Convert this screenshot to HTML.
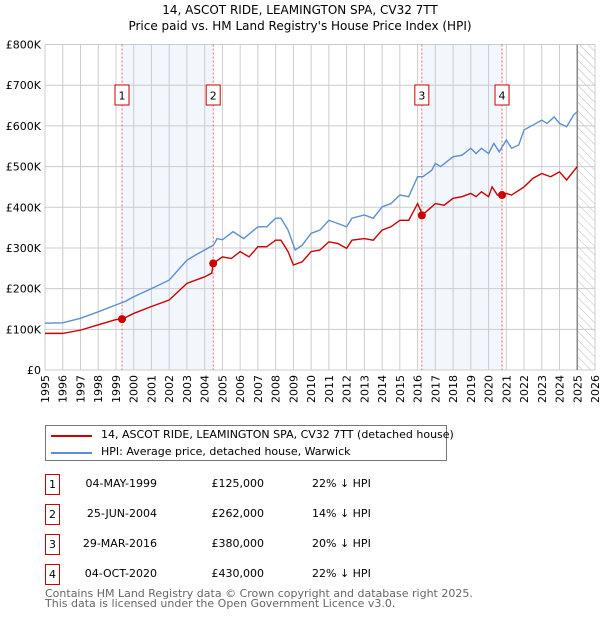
<!DOCTYPE html>
<html><head><meta charset="utf-8"><style>
body{margin:0;background:#fff;font-family:"DejaVu Sans","Liberation Sans",sans-serif;}
#wrap{position:relative;width:600px;height:620px;}
.row{position:absolute;font-size:11px;color:#000;white-space:nowrap}
.box{position:absolute;width:13px;height:19px;border:1px solid #c00;font-size:11px;text-align:center;line-height:19px;background:#fff}
svg text{font-family:"DejaVu Sans","Liberation Sans",sans-serif;}
</style></head><body><div id="wrap">
<svg id="chart" width="600" height="420" style="position:absolute;left:0;top:0">
<defs><pattern id="hatch" width="6" height="6" patternUnits="userSpaceOnUse" patternTransform="rotate(-45)"><line x1="0" y1="0" x2="0" y2="6" stroke="#bbb" stroke-width="1"/></pattern></defs>
<text x="300" y="14" text-anchor="middle" font-size="12">14, ASCOT RIDE, LEAMINGTON SPA, CV32 7TT</text>
<text x="300" y="30" text-anchor="middle" font-size="12">Price paid vs. HM Land Registry's House Price Index (HPI)</text>
<g id="g"></g>
</svg>
<div style="position:absolute;left:45px;top:425px;width:402px;height:36px;border:1px solid #777;box-sizing:border-box">
<div style="position:absolute;left:5px;top:9px;width:41px;height:2px;background:#c00"></div>
<div class="row" style="left:55px;top:2px">14, ASCOT RIDE, LEAMINGTON SPA, CV32 7TT (detached house)</div>
<div style="position:absolute;left:5px;top:26px;width:41px;height:2px;background:#5b8fd4"></div>
<div class="row" style="left:55px;top:19px">HPI: Average price, detached house, Warwick</div>
</div>
<div id="table"></div>
<div class="row" style="left:45px;top:589px;color:#666;line-height:10px">Contains HM Land Registry data © Crown copyright and database right 2025.<br>This data is licensed under the Open Government Licence v3.0.</div>
</div>
<script>
const years=[];for(let y=1995;y<=2026;y++)years.push(y);
const yTicks=[0,100,200,300,400,500,600,700,800];
const hpiT=[1995,1996,1997,1998,1999,1999.5,2000,2001,2002,2003,2003.5,2004,2004.5,2004.7,2005,2005.6,2006.2,2007,2007.5,2008,2008.3,2008.7,2009.1,2009.5,2010,2010.5,2011,2011.5,2012,2012.3,2013,2013.5,2014,2014.5,2015,2015.5,2016,2016.3,2016.8,2017,2017.3,2018,2018.5,2019,2019.3,2019.6,2020,2020.3,2020.6,2021,2021.3,2021.7,2022,2022.5,2023,2023.3,2023.7,2024,2024.4,2024.8,2025];
const hpiV=[115,116,127,143,160,168,180,200,221,270,283,295,307,323,320,340,323,352,352,373,373,344,295,307,336,344,368,360,352,373,381,373,401,409,430,426,475,475,491,508,500,524,528,545,532,545,532,557,536,565,545,553,590,602,614,606,622,606,598,627,635];
const ppT=[1995,1996,1997,1998,1999,1999.34,2000,2001,2002,2003,2004,2004.4,2004.48,2005,2005.5,2006,2006.5,2007,2007.5,2008,2008.3,2008.7,2009,2009.5,2010,2010.5,2011,2011.5,2012,2012.3,2013,2013.5,2014,2014.5,2015,2015.5,2016,2016.2,2016.24,2016.8,2017,2017.5,2018,2018.5,2019,2019.3,2019.6,2020,2020.2,2020.5,2020.76,2021,2021.3,2022,2022.5,2023,2023.5,2024,2024.4,2025];
const ppV=[90,90,98,111,124,125,139,156,172,213,229,238,262,278,274,291,278,303,303,319,319,291,258,266,291,295,315,311,299,319,323,319,344,352,368,368,409,389,380,401,409,405,422,426,434,426,438,426,450,430,430,434,430,450,471,483,475,487,467,500];
const saleT=[1999.34,2004.48,2016.24,2020.76];
const saleV=[125,262,380,430];
const saleLabels=["1","2","3","4"];
const saleDates=["04-MAY-1999","25-JUN-2004","29-MAR-2016","04-OCT-2020"];
const salePrices=["£125,000","£262,000","£380,000","£430,000"];
const saleDiff=["22% ↓ HPI","14% ↓ HPI","20% ↓ HPI","22% ↓ HPI"];
const X0=45,X1=595,Y0=370,Y1=44.5;
const xs=t=>X0+(t-1995)/(2026-1995)*(X1-X0);
const ys=v=>Y0-v/800*(Y0-Y1);
const g=document.getElementById('g');const NS='http://www.w3.org/2000/svg';
function mk(tag,at,name){const e=document.createElementNS(NS,tag);for(const k in at)e.setAttribute(k,at[k]);


g.appendChild(e);return e;}
for(let i=0;i<2;i++){mk('rect',{x:xs(saleT[i*2]),y:Y1,width:xs(saleT[i*2+1])-xs(saleT[i*2]),height:Y0-Y1,fill:'#f2f6fd'},'shaded-period');}
mk('rect',{x:xs(2025),y:Y1,width:X1-xs(2025),height:Y0-Y1,fill:'url(#hatch)'},'forecast-hatch');
years.forEach(y=>{mk('line',{x1:xs(y),x2:xs(y),y1:Y1,y2:Y0,stroke:'#ccc'},'x-gridline');
const t=mk('text',{x:0,y:0,transform:`translate(${xs(y)+4},${Y0+5}) rotate(-90)`,'text-anchor':'end','font-size':'11'},'x-tick-label');t.textContent=y;});
yTicks.forEach(v=>{mk('line',{x1:X0,x2:X1,y1:ys(v),y2:ys(v),stroke:'#ccc'},'y-gridline');
const t=mk('text',{x:41,y:ys(v)+4,'text-anchor':'end','font-size':'11'},'y-tick-label');t.textContent=v===0?'£0':'£'+v+'K';});
mk('line',{x1:xs(2025),x2:xs(2025),y1:Y1,y2:Y0,stroke:'#888','stroke-width':1.5},'today-line');
saleT.forEach((t,i)=>{mk('line',{x1:xs(t),x2:xs(t),y1:Y1,y2:Y0,stroke:'#e44','stroke-dasharray':'2,2','stroke-width':0.8},'sale-line');
mk('rect',{x:xs(t)-7,y:85,width:14,height:20,fill:'#fff',stroke:'#c00'},'sale-box');
const tx=mk('text',{x:xs(t),y:99.5,'text-anchor':'middle','font-size':'11'},'sale-box-label');tx.textContent=saleLabels[i];});
mk('polyline',{points:hpiT.map((t,i)=>xs(t)+','+ys(hpiV[i])).join(' '),fill:'none',stroke:'#5b8fd4','stroke-width':1.4},'hpi-line');
mk('polyline',{points:ppT.map((t,i)=>xs(t)+','+ys(ppV[i])).join(' '),fill:'none',stroke:'#c00','stroke-width':1.4},'price-line');
saleT.forEach((t,i)=>mk('circle',{cx:xs(t),cy:ys(saleV[i]),r:4,fill:'#c00'},'sale-marker'));
const tb=document.getElementById('table');
saleT.forEach((t,i)=>{const top=474+i*30;
const b=document.createElement('div');b.className='box';b.style.left='45px';b.style.top=top+'px';b.textContent=saleLabels[i];


tb.appendChild(b);
[[saleDates[i],157,'end'],[salePrices[i],264,'end'],[saleDiff[i],312,'start']].forEach(([s,x,al],j)=>{const d=document.createElement('div');d.className='row';d.style.top=(top+3)+'px';
if(al==='end'){d.style.right=(600-x)+'px';}else d.style.left=x+'px';d.textContent=s;


tb.appendChild(d);});});
</script></body></html>
